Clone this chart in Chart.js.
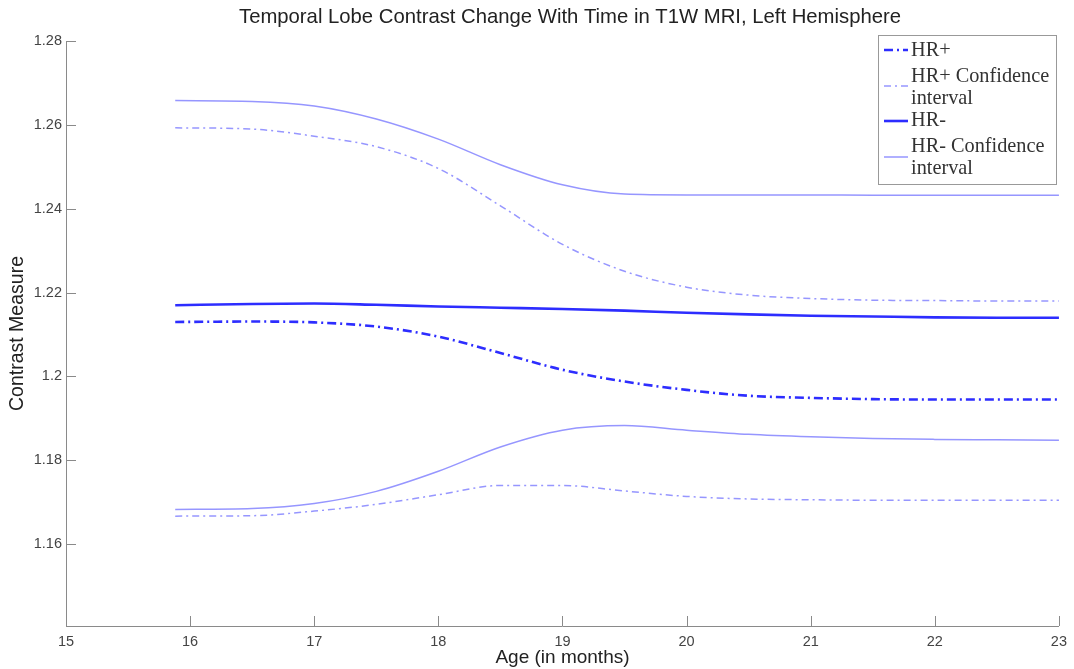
<!DOCTYPE html>
<html>
<head>
<meta charset="utf-8">
<script src="https://cdn.jsdelivr.net/npm/chart.js@4/dist/chart.umd.min.js"></script>
<style>
  body { margin: 0; background: #fff; }
  #wrap { width: 1074px; height: 669px; position: relative; }
</style>
</head>
<body>
<div id="wrap"><canvas id="chart"></canvas></div>
<script>
// age in months
const months = [15.88, 16.5, 17, 17.5, 18, 18.5, 19, 19.5, 20, 20.5, 21, 21.5, 22, 22.5, 23];

const hrPlus      = [1.2130, 1.2131, 1.2129, 1.2119, 1.2095, 1.2056, 1.2016, 1.1988, 1.1968, 1.1954, 1.1949, 1.1946, 1.1945, 1.1945, 1.1945];
const hrPlusUpper = [1.2593, 1.2590, 1.2573, 1.2548, 1.2496, 1.2407, 1.2315, 1.2251, 1.2213, 1.2194, 1.2186, 1.2182, 1.2181, 1.2180, 1.2180];
const hrPlusLower = [1.1667, 1.1668, 1.1679, 1.1695, 1.1718, 1.1740, 1.1740, 1.1727, 1.1714, 1.1708, 1.1706, 1.1705, 1.1705, 1.1705, 1.1705];
const hrMinus      = [1.2170, 1.2173, 1.2174, 1.2171, 1.2167, 1.2164, 1.2161, 1.2157, 1.2152, 1.2148, 1.2145, 1.2143, 1.2141, 1.2140, 1.2140];
const hrMinusUpper = [1.2658, 1.2656, 1.2645, 1.2614, 1.2566, 1.2505, 1.2457, 1.2435, 1.2433, 1.2433, 1.2433, 1.2432, 1.2432, 1.2432, 1.2432];
const hrMinusLower = [1.1683, 1.1685, 1.1697, 1.1726, 1.1774, 1.1832, 1.1872, 1.1883, 1.1872, 1.1862, 1.1856, 1.1852, 1.1850, 1.1849, 1.1848];

const xTicks = [15, 16, 17, 18, 19, 20, 21, 22, 23];
const yTicks = [1.16, 1.18, 1.2, 1.22, 1.24, 1.26, 1.28];

const dark = 'rgb(45,45,255)';
const light = 'rgb(150,150,255)';
const dashThick = [9, 4, 2, 4];
const dashThin = [7, 4, 2, 4];

function pts(ys) {
  return months.map((m, i) => ({ x: m, y: ys[i] }));
}

function line(label, ys, color, width, dash, inLegend) {
  return {
    label: label,
    data: pts(ys),
    borderColor: color,
    borderWidth: width,
    borderDash: dash,
    pointRadius: 0,
    fill: false,
    cubicInterpolationMode: 'monotone',
    inLegend: inLegend
  };
}

// legend box + title + inward ticks
const extras = {
  id: 'extras',
  afterDraw(chart) {
    const ctx = chart.ctx;
    const xs = chart.scales.x, ys = chart.scales.y;
    const area = chart.chartArea;
    ctx.save();

    // inward tick marks
    ctx.strokeStyle = '#8a8a8a';
    ctx.lineWidth = 1;
    ctx.beginPath();
    xTicks.forEach(v => {
      const px = Math.round(xs.getPixelForValue(v)) + 0.5;
      ctx.moveTo(px, area.bottom);
      ctx.lineTo(px, area.bottom - 10);
    });
    yTicks.forEach(v => {
      const py = Math.round(ys.getPixelForValue(v)) + 0.5;
      ctx.moveTo(area.left, py);
      ctx.lineTo(area.left + 10, py);
    });
    ctx.stroke();

    // title
    ctx.fillStyle = '#222';
    ctx.font = '20.3px "Liberation Sans", Arial, sans-serif';
    ctx.textAlign = 'center';
    ctx.textBaseline = 'middle';
    ctx.fillText('Temporal Lobe Contrast Change With Time in T1W MRI, Left Hemisphere', 570, 17);

    // legend
    const bx = 878, by = 35, bw = 178, bh = 149;
    ctx.fillStyle = '#fff';
    ctx.fillRect(bx, by, bw, bh);
    ctx.strokeStyle = '#999';
    ctx.strokeRect(bx + 0.5, by + 0.5, bw, bh);

    const items = chart.data.datasets.filter(d => d.inLegend);
    const rows = [
      { lines: ['HR+'], sampleY: 50 },
      { lines: ['HR+ Confidence', 'interval'], sampleY: 86 },
      { lines: ['HR-'], sampleY: 121 },
      { lines: ['HR- Confidence', 'interval'], sampleY: 157 }
    ];
    const textY = [51, 77, 99, 121, 147, 169];
    let t = 0;
    ctx.font = '20.3px "Liberation Serif", "Times New Roman", serif';
    ctx.textAlign = 'left';
    items.forEach((d, i) => {
      ctx.strokeStyle = d.borderColor;
      ctx.lineWidth = d.borderWidth;
      ctx.setLineDash(d.borderDash);
      ctx.beginPath();
      ctx.moveTo(884, rows[i].sampleY);
      ctx.lineTo(908, rows[i].sampleY);
      ctx.stroke();
      ctx.setLineDash([]);
      ctx.fillStyle = '#333';
      rows[i].lines.forEach(s => {
        ctx.fillText(s, 911, textY[t]);
        t++;
      });
    });
    ctx.restore();
  }
};

const chart = new Chart(document.getElementById('chart'), {
  type: 'line',
  data: {
    datasets: [
      line('HR+', hrPlus, dark, 2.6, dashThick, true),
      line('HR+ Confidence interval', hrPlusUpper, light, 1.5, dashThin, true),
      line('HR-', hrMinus, dark, 2.6, [], true),
      line('HR- Confidence interval', hrMinusUpper, light, 1.5, [], true),
      line('HR+ lower', hrPlusLower, light, 1.5, dashThin, false),
      line('HR- lower', hrMinusLower, light, 1.5, [], false)
    ]
  },
  options: {
    responsive: true,
    maintainAspectRatio: false,
    animation: false,
    layout: { padding: { top: 41, right: 8, left: 0, bottom: 0 } },
    plugins: {
      legend: { display: false },
      title: { display: false },
      tooltip: { enabled: false }
    },
    scales: {
      x: {
        type: 'linear',
        min: 15,
        max: 23,
        afterBuildTicks: s => { s.ticks = xTicks.map(v => ({ value: v })); },
        afterFit: s => { s.height = 43; },
        grid: { drawOnChartArea: false, drawTicks: false },
        border: { color: '#8a8a8a', width: 1 },
        ticks: {
          padding: 7,
          color: '#444',
          font: { family: '"Liberation Sans", Arial, sans-serif', size: 14.5 },
          maxRotation: 0
        },
        title: {
          display: true,
          text: 'Age (in months)',
          color: '#222',
          font: { family: '"Liberation Sans", Arial, sans-serif', size: 19 },
          padding: { top: 0, bottom: 0 }
        }
      },
      y: {
        min: 1.1405,
        max: 1.28,
        afterBuildTicks: s => { s.ticks = yTicks.map(v => ({ value: v })); },
        afterFit: s => { s.width = 66; },
        grid: { drawOnChartArea: false, drawTicks: false },
        border: { color: '#8a8a8a', width: 1 },
        ticks: {
          padding: 4,
          color: '#444',
          font: { family: '"Liberation Sans", Arial, sans-serif', size: 14.5 },
          callback: v => String(+v.toFixed(2))
        },
        title: {
          display: true,
          text: 'Contrast Measure',
          color: '#222',
          font: { family: '"Liberation Sans", Arial, sans-serif', size: 19.5 },
          padding: { top: 6, bottom: 0 }
        }
      }
    }
  },
  plugins: [extras]
});
</script>
</body>
</html>
